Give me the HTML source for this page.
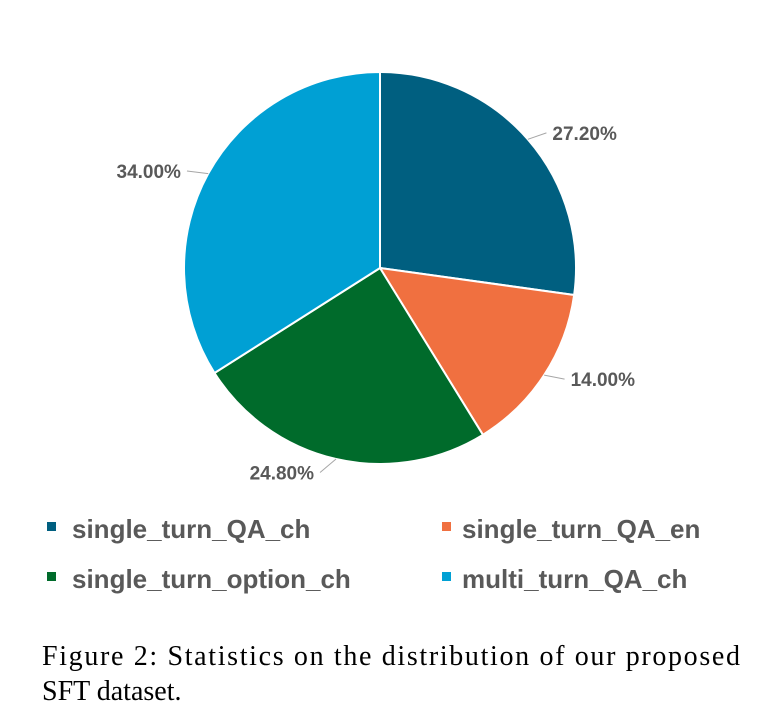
<!DOCTYPE html>
<html><head><meta charset="utf-8"><style>
body{margin:0;background:#fff;width:758px;height:722px;overflow:hidden}
svg{display:block}
.lbl{font-family:"Liberation Sans",sans-serif;font-weight:bold;font-size:19px;fill:#595959}
.leg{font-family:"Liberation Sans",sans-serif;font-weight:bold;font-size:26px;fill:#595959}
.cap{font-family:"Liberation Serif",serif;font-size:28px;fill:#000}
</style></head><body>
<svg id="chart" width="758" height="722">
<g id="slices"></g><g id="labels"></g>
<g>
<rect x="47" y="522" width="9" height="9" fill="#005f80"/>
<text class="leg" x="72" y="538">single_turn_QA_ch</text>
<rect x="442" y="522" width="9" height="9" fill="#f07040"/>
<text class="leg" x="462" y="538">single_turn_QA_en</text>
<rect x="47" y="572" width="9" height="9" fill="#006b2b"/>
<text class="leg" x="72" y="588">single_turn_option_ch</text>
<rect x="442" y="572" width="9" height="9" fill="#00a0d4"/>
<text class="leg" x="462" y="588">multi_turn_QA_ch</text>
</g>
<text class="cap" x="42" y="665" textLength="698">Figure 2: Statistics on the distribution of our proposed</text>
<text class="cap" x="42" y="700">SFT dataset.</text>
</svg>
<script>
const categories=["single_turn_QA_ch","single_turn_QA_en","single_turn_option_ch","multi_turn_QA_ch"];
const values=[27.2,14.0,24.8,34.0];
const valueLabels=["27.20%","14.00%","24.80%","34.00%"];
const colors=["#005f80","#f07040","#006b2b","#00a0d4"];
const NS="http://www.w3.org/2000/svg";
const cx=380,cy=268,r=196;
const total=values.reduce((a,b)=>a+b,0);
function pt(frac,rad){const a=frac*2*Math.PI;return [cx+rad*Math.sin(a),cy-rad*Math.cos(a)];}
const sg=document.getElementById('slices'),lg=document.getElementById('labels');
let acc=0;
values.forEach((v,i)=>{
  const s=acc/total,e=(acc+v)/total;acc+=v;
  const [x1,y1]=pt(s,r),[x2,y2]=pt(e,r);
  const p=document.createElementNS(NS,'path');
  p.setAttribute('d',`M${cx},${cy}L${x1},${y1}A${r},${r} 0 ${e-s>0.5?1:0} 1 ${x2},${y2}Z`);
  p.setAttribute('fill',colors[i]);p.setAttribute('stroke','#fff');p.setAttribute('stroke-width','2');
  
  
  sg.appendChild(p);
  const m=(s+e)/2;
  const [ex,ey]=pt(m,r);
  const right=Math.sin(m*2*Math.PI)>=0;
  const [ox,oy]=pt(m,r+22);
  const lx=right?Math.max(ox,ex+14)+8:Math.min(ox,ex-14)-8;
  const ly=oy+(Math.cos(m*2*Math.PI)>0?8:-8);
  const ln=document.createElementNS(NS,'polyline');
  ln.setAttribute('points',`${ex},${ey} ${right?lx-6:lx+6},${ly}`);
  ln.setAttribute('fill','none');ln.setAttribute('stroke','#a6a6a6');ln.setAttribute('stroke-width','1');
  
  
  lg.appendChild(ln);
  const t=document.createElementNS(NS,'text');
  t.setAttribute('class','lbl');t.setAttribute('x',lx);t.setAttribute('y',ly+7);
  t.setAttribute('text-anchor',right?'start':'end');
  t.textContent=valueLabels[i];
  
  
  lg.appendChild(t);
});
</script>
</body></html>
